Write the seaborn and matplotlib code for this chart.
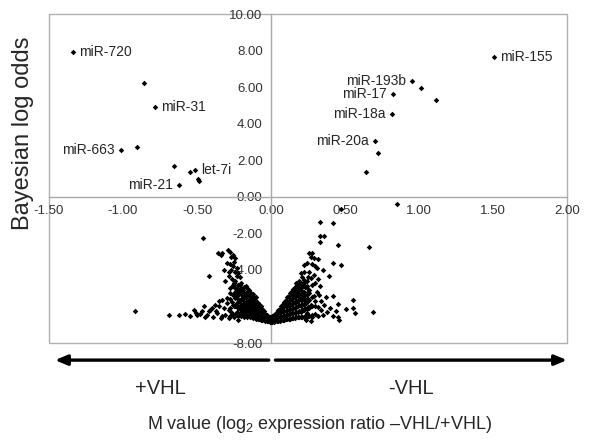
import seaborn as sns
import matplotlib.pyplot as plt
import pandas as pd
from matplotlib.patches import Rectangle
from matplotlib.ticker import FormatStrFormatter

# labelled miRNAs: M value, Bayesian log odds, side of the label
gene_names = ['miR-720', 'miR-31', 'miR-663', 'let-7i', 'miR-21',
              'miR-155', 'miR-193b', 'miR-17', 'miR-18a', 'miR-20a']
gene_m = [-1.336, -0.787, -1.015, -0.514, -0.62, 1.508, 0.955, 0.824, 0.815, 0.702]
gene_odds = [7.92, 4.94, 2.57, 1.48, 0.66, 7.67, 6.31, 5.62, 4.52, 3.06]
gene_side = ['right', 'right', 'left', 'right', 'left',
             'right', 'left', 'left', 'left', 'left']

# other points above the cloud
other_m = [-0.857, -0.907, -0.654, -0.546, -0.494, -0.487,
           1.016, 1.118, 0.725, 0.641, 0.85, 0.47, 0.334, 0.42, -0.46]
other_odds = [6.24, 2.75, 1.71, 1.35, 0.98, 0.88,
              5.96, 5.31, 2.42, 1.33, -0.38, -0.67, -1.38, -1.41, -2.26]

# the volcano cloud, +VHL side
left_cloud = [
    (-0.01, -6.85), (-0.01, -6.7), (-0.01, -6.55), (-0.02, -6.82), (-0.02, -6.62),
    (-0.03, -6.8), (-0.03, -6.6), (-0.03, -6.45), (-0.04, -6.78), (-0.04, -6.6), (-0.04, -6.4),
    (-0.05, -6.76), (-0.05, -6.57), (-0.05, -6.38), (-0.05, -6.25),
    (-0.06, -6.75), (-0.06, -6.55), (-0.06, -6.35), (-0.06, -6.15),
    (-0.07, -6.72), (-0.07, -6.52), (-0.07, -6.32), (-0.07, -6.1), (-0.07, -6.0),
    (-0.08, -6.7), (-0.08, -6.5), (-0.08, -6.3), (-0.08, -6.1), (-0.08, -5.9),
    (-0.09, -6.68), (-0.09, -6.45), (-0.09, -6.22), (-0.09, -6.0), (-0.09, -5.8),
    (-0.10, -6.68), (-0.10, -6.48), (-0.10, -6.28), (-0.10, -6.08), (-0.10, -5.88), (-0.10, -5.68), (-0.10, -5.5),
    (-0.11, -6.6), (-0.11, -6.38), (-0.11, -6.15), (-0.11, -5.95), (-0.11, -5.75), (-0.11, -5.55),
    (-0.12, -6.65), (-0.12, -6.45), (-0.12, -6.25), (-0.12, -6.05), (-0.12, -5.85), (-0.12, -5.65), (-0.12, -5.45), (-0.12, -5.3),
    (-0.13, -6.58), (-0.13, -6.35), (-0.13, -6.12), (-0.13, -5.92), (-0.13, -5.72), (-0.13, -5.5), (-0.13, -5.35),
    (-0.14, -6.6), (-0.14, -6.4), (-0.14, -6.2), (-0.14, -6.0), (-0.14, -5.8), (-0.14, -5.6), (-0.14, -5.4), (-0.14, -5.2),
    (-0.15, -6.5), (-0.15, -6.28), (-0.15, -6.05), (-0.15, -5.85), (-0.15, -5.62), (-0.15, -5.38), (-0.15, -5.12),
    (-0.16, -6.6), (-0.16, -6.35), (-0.16, -6.15), (-0.16, -5.9), (-0.16, -5.7), (-0.16, -5.45), (-0.16, -5.2), (-0.16, -5.0),
    (-0.17, -6.48), (-0.17, -6.22), (-0.17, -5.98), (-0.17, -5.75), (-0.17, -5.5), (-0.17, -5.3), (-0.17, -4.9),
    (-0.18, -6.55), (-0.18, -6.3), (-0.18, -6.05), (-0.18, -5.8), (-0.18, -5.55), (-0.18, -5.25), (-0.18, -4.95),
    (-0.19, -6.4), (-0.19, -6.12), (-0.19, -5.85), (-0.19, -5.6), (-0.19, -5.4), (-0.19, -5.1),
    (-0.20, -6.5), (-0.20, -6.2), (-0.20, -5.9), (-0.20, -5.6), (-0.20, -5.3), (-0.20, -5.0), (-0.20, -4.7),
    (-0.21, -6.35), (-0.21, -6.0), (-0.21, -5.7), (-0.21, -5.2), (-0.21, -4.85),
    (-0.22, -6.5), (-0.22, -6.1), (-0.22, -5.75), (-0.22, -5.4), (-0.22, -5.1), (-0.22, -4.8),
    (-0.23, -6.3), (-0.23, -5.95), (-0.23, -5.55), (-0.23, -5.0),
    (-0.24, -6.45), (-0.24, -6.0), (-0.24, -5.55), (-0.24, -5.2), (-0.24, -4.6),
    (-0.26, -6.4), (-0.26, -5.9), (-0.26, -5.4), (-0.26, -4.9), (-0.28, -6.5), (-0.28, -6.1), (-0.28, -5.6),
    (-0.36, -3.08), (-0.34, -3.17), (-0.33, -3.05), (-0.29, -2.9), (-0.275, -3.0), (-0.26, -3.17),
    (-0.245, -3.35), (-0.30, -3.63), (-0.275, -3.67), (-0.26, -3.77), (-0.32, -3.99), (-0.286, -4.09),
    (-0.24, -4.09), (-0.22, -4.17), (-0.42, -4.36), (-0.286, -4.36), (-0.263, -4.5), (-0.23, -4.36),
    (-0.25, -4.72), (-0.22, -4.81), (-0.24, -5.0), (-0.21, -5.09), (-0.275, -5.27), (-0.24, -5.36),
    (-0.196, -5.36), (-0.33, -5.63), (-0.30, -5.54), (-0.263, -5.73), (-0.23, -5.82), (-0.354, -6.0),
    (-0.32, -6.09), (-0.286, -6.18), (-0.25, -6.0), (-0.50, -6.46), (-0.466, -6.27), (-0.43, -6.46),
    (-0.39, -6.55), (-0.37, -6.27), (-0.34, -6.64), (-0.31, -6.46), (-0.286, -6.64), (-0.25, -6.55),
    (-0.22, -6.73), (-0.69, -6.48), (-0.58, -6.4), (-0.52, -6.22), (-0.505, -6.36), (-0.444, -6.58),
    (-0.42, -6.27), (-0.41, -6.18), (-0.365, -6.36), (-0.33, -6.5), (-0.917, -6.24),
    (-0.27, -3.3), (-0.25, -3.55), (-0.23, -3.9), (-0.27, -4.0), (-0.21, -4.4), (-0.26, -4.85),
    (-0.23, -5.2), (-0.28, -5.0), (-0.31, -4.6), (-0.30, -5.8), (-0.27, -6.3), (-0.35, -5.7),
    (-0.38, -5.9), (-0.40, -6.1), (-0.45, -6.0), (-0.48, -6.4), (-0.55, -6.5), (-0.62, -6.45),
]

# the volcano cloud, -VHL side
right_cloud = [
    (0.00, -6.85), (0.00, -6.7), (0.00, -6.55), (0.01, -6.85), (0.01, -6.68), (0.01, -6.52),
    (0.02, -6.83), (0.02, -6.65), (0.02, -6.48), (0.03, -6.82), (0.03, -6.62), (0.03, -6.42),
    (0.04, -6.8), (0.04, -6.6), (0.04, -6.4), (0.04, -6.3),
    (0.05, -6.78), (0.05, -6.58), (0.05, -6.38), (0.05, -6.2),
    (0.06, -6.77), (0.06, -6.55), (0.06, -6.33), (0.06, -6.12),
    (0.07, -6.75), (0.07, -6.53), (0.07, -6.3), (0.07, -6.08), (0.07, -5.95),
    (0.08, -6.73), (0.08, -6.5), (0.08, -6.27), (0.08, -6.05), (0.08, -5.85),
    (0.09, -6.72), (0.09, -6.5), (0.09, -6.25), (0.09, -6.0), (0.09, -5.78),
    (0.10, -6.7), (0.10, -6.48), (0.10, -6.24), (0.10, -6.0), (0.10, -5.8), (0.10, -5.65),
    (0.11, -6.68), (0.11, -6.45), (0.11, -6.2), (0.11, -5.95), (0.11, -5.72), (0.11, -5.5),
    (0.12, -6.67), (0.12, -6.43), (0.12, -6.18), (0.12, -5.93), (0.12, -5.68), (0.12, -5.45),
    (0.13, -6.66), (0.13, -6.4), (0.13, -6.15), (0.13, -5.9), (0.13, -5.62), (0.13, -5.38), (0.13, -5.25),
    (0.14, -6.65), (0.14, -6.38), (0.14, -6.12), (0.14, -5.86), (0.14, -5.6), (0.14, -5.35), (0.14, -5.15),
    (0.15, -6.63), (0.15, -6.37), (0.15, -6.1), (0.15, -5.82), (0.15, -5.55), (0.15, -5.3), (0.15, -5.05),
    (0.16, -6.62), (0.16, -6.35), (0.16, -6.07), (0.16, -5.8), (0.16, -5.5), (0.16, -5.22), (0.16, -4.98),
    (0.17, -6.6), (0.17, -6.32), (0.17, -6.02), (0.17, -5.72), (0.17, -5.45), (0.17, -5.15), (0.17, -4.9),
    (0.18, -6.6), (0.18, -6.3), (0.18, -6.0), (0.18, -5.7), (0.18, -5.4), (0.18, -5.1), (0.18, -4.85),
    (0.19, -6.58), (0.19, -6.25), (0.19, -5.92), (0.19, -5.6), (0.19, -5.3), (0.19, -5.0), (0.19, -4.75),
    (0.20, -6.6), (0.20, -6.28), (0.20, -5.95), (0.20, -5.62), (0.20, -5.3), (0.20, -4.98), (0.20, -4.7),
    (0.21, -6.55), (0.21, -6.2), (0.21, -5.85), (0.21, -5.5), (0.21, -5.15), (0.21, -4.8),
    (0.22, -6.58), (0.22, -6.22), (0.22, -5.88), (0.22, -5.52), (0.22, -5.2), (0.22, -4.88), (0.22, -4.55),
    (0.23, -6.5), (0.23, -6.1), (0.23, -5.7), (0.23, -5.35), (0.23, -4.95),
    (0.24, -6.55), (0.24, -6.15), (0.24, -5.75), (0.24, -5.4), (0.24, -5.0), (0.24, -4.6),
    (0.25, -6.45), (0.25, -6.05), (0.25, -5.6), (0.25, -5.2), (0.25, -4.4),
    (0.26, -6.5), (0.26, -6.1), (0.26, -5.65), (0.26, -5.1), (0.28, -6.45), (0.28, -6.0), (0.28, -5.5),
    (0.30, -6.4), (0.30, -5.7), (0.32, -6.5), (0.32, -6.05),
    (0.258, -3.05), (0.28, -3.08), (0.27, -3.27), (0.29, -3.35), (0.224, -3.72), (0.246, -3.63),
    (0.28, -3.67), (0.30, -3.77), (0.20, -4.17), (0.224, -4.09), (0.258, -4.14), (0.29, -4.27),
    (0.35, -4.03), (0.167, -4.72), (0.19, -4.63), (0.224, -4.72), (0.246, -4.9), (0.28, -4.81),
    (0.30, -4.72), (0.156, -5.18), (0.18, -5.27), (0.21, -5.36), (0.258, -5.27), (0.29, -5.45),
    (0.326, -5.36), (0.37, -5.49), (0.416, -5.42), (0.235, -5.82), (0.27, -5.91), (0.30, -6.0),
    (0.336, -6.18), (0.20, -6.27), (0.246, -6.36), (0.28, -6.55), (0.235, -6.73), (0.27, -6.8),
    (0.44, -6.27), (0.45, -6.55), (0.46, -6.73),
    (0.33, -2.13), (0.357, -2.13), (0.33, -2.5), (0.45, -2.66), (0.664, -2.77), (0.416, -3.63),
    (0.47, -3.72), (0.39, -4.36), (0.456, -5.89), (0.553, -5.63), (0.556, -6.06), (0.506, -6.14),
    (0.57, -6.35), (0.69, -6.29),
    (0.31, -3.9), (0.32, -4.5), (0.33, -4.9), (0.34, -5.7), (0.36, -5.9), (0.38, -6.3),
    (0.40, -6.1), (0.42, -6.5), (0.35, -6.45), (0.27, -4.45), (0.31, -5.2), (0.21, -4.4), (0.32, -3.4),
]

x_ticks = [-1.5, -1.0, -0.5, 0.0, 0.5, 1.0, 1.5, 2.0]
y_ticks = [-8, -6, -4, -2, 0, 2, 4, 6, 8, 10]

sns.set_style('white')
plt.rcParams['font.family'] = ['Liberation Sans', 'DejaVu Sans']
plt.rcParams['mathtext.fontset'] = 'custom'
plt.rcParams['mathtext.rm'] = 'Liberation Sans'
plt.rcParams['mathtext.it'] = 'Liberation Sans:italic'

cloud = left_cloud + right_cloud
df = pd.DataFrame({
    'm': gene_m + other_m + [p[0] for p in cloud],
    'odds': gene_odds + other_odds + [p[1] for p in cloud],
})

fig = plt.figure(figsize=(6, 4.41), dpi=100)
ax = fig.add_axes([0.0817, 0.2222, 0.8633, 0.746])

sns.scatterplot(data=df, x='m', y='odds', color='black', marker='D', s=8,
                linewidth=0, ax=ax, zorder=3)

ax.set_xlim(-1.5, 2.0)
ax.set_ylim(-8, 10)
ax.set_xticks(x_ticks)
ax.set_yticks(y_ticks)
ax.xaxis.set_major_formatter(FormatStrFormatter('%.2f'))
ax.yaxis.set_major_formatter(FormatStrFormatter('%.2f'))
ax.set_xlabel('')
ax.set_ylabel('')

# axes crossing at the origin, gray frame around the plot
for side in ['top', 'right']:
    ax.spines[side].set_visible(False)
ax.spines['left'].set_position(('data', 0))
ax.spines['bottom'].set_position(('data', 0))
for side in ['left', 'bottom']:
    ax.spines[side].set_color('#a8a8a8')
    ax.spines[side].set_linewidth(1.0)
ax.add_patch(Rectangle((0, 0), 1, 1, transform=ax.transAxes, fill=False,
                       edgecolor='#b0b0b0', lw=1.0, clip_on=False, zorder=0))
ax.tick_params(axis='both', direction='out', length=3, width=0.8, color='#a8a8a8',
               labelsize=9.5, labelcolor='#333333', pad=3)

for name, x, y, side in zip(gene_names, gene_m, gene_odds, gene_side):
    dx = 4.5 if side == 'right' else -4.5
    ax.annotate(name, (x, y), xytext=(dx, 0), textcoords='offset points',
                ha='left' if side == 'right' else 'right', va='center', fontsize=10)

# +VHL / -VHL arrows under the plot
arrow = dict(arrowstyle='-|>,head_length=0.6,head_width=0.25', lw=2.4, color='black',
             mutation_scale=12, shrinkA=0, shrinkB=0)
ax.annotate('', xy=(-1.46, -0.052), xytext=(-0.015, -0.052),
            xycoords=('data', 'axes fraction'), textcoords=('data', 'axes fraction'),
            arrowprops=arrow, annotation_clip=False)
ax.annotate('', xy=(2.0, -0.052), xytext=(0.03, -0.052),
            xycoords=('data', 'axes fraction'), textcoords=('data', 'axes fraction'),
            arrowprops=arrow, annotation_clip=False)

fig.text(0.268, 0.118, '+VHL', fontsize=14.5, ha='center', va='center')
fig.text(0.685, 0.118, '-VHL', fontsize=14.5, ha='center', va='center')
fig.text(0.533, 0.0385, 'M value (log$_2$ expression ratio \u2013VHL/+VHL)',
         fontsize=13, ha='center', va='center')
fig.text(0.038, 0.698, 'Bayesian log odds', fontsize=17, rotation=90,
         ha='center', va='center')

fig.savefig('out.png', dpi=100)
